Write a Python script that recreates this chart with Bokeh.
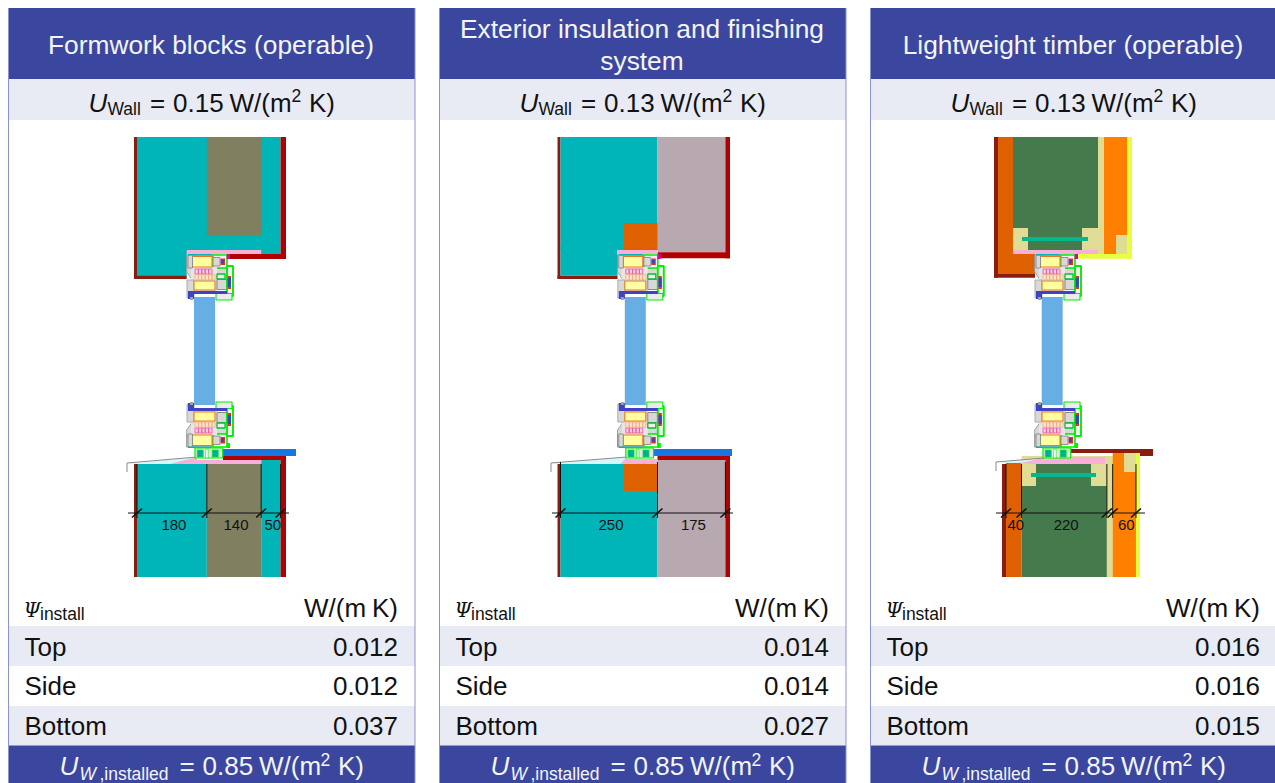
from bokeh.plotting import figure
from bokeh.models import Range1d
from bokeh.core.properties import value
from bokeh.embed import file_html
from bokeh.resources import INLINE

titles = [["Formwork blocks (operable)"],
          ["Exterior insulation and finishing", "system"],
          ["Lightweight timber (operable)"]]
u_wall = ["0.15", "0.13", "0.13"]
psi_top = ["0.012", "0.014", "0.016"]
psi_side = ["0.012", "0.014", "0.016"]
psi_bottom = ["0.037", "0.027", "0.015"]
u_window = ["0.85", "0.85", "0.85"]
row_names = ["Top", "Side", "Bottom"]
wall_mm_a = [180, 140, 50]
wall_mm_b = [250, 175]
wall_mm_c = [40, 220, 15, 60]
wall_labels_c = ["40", "220", "", "60"]

BLUE = "#3b479e"
PALE = "#e8ebf4"
EDGE = "#8a93cf"
TEAL = "#00b5b8"
OLIVE = "#807f5f"
MAUVE = "#b8a8b0"
RED = "#b00000"
DARK = "#8b1c10"
PINK = "#f8b0d8"
ORANGE = "#de6000"
BRIGHT = "#ff8000"
BEIGE = "#e0dc96"
GREEN = "#457a4c"
LIME = "#e8ff40"
GLASS = "#66aee3"
SILL = "#1976e0"
GRAY = "#d8d8d8"
MM = 0.388
SANS = "Liberation Sans"
MAIN = 26
SUB = 17.5

p = figure(width=1275, height=783, x_range=Range1d(0.5, 1275.5), y_range=Range1d(783.5, 0.5),
           output_backend="svg", toolbar_location=None, min_border=0,
           x_axis_type=None, y_axis_type=None, outline_line_color=None)
p.grid.visible = False


def box(l, r, t, b, fill=None, line=None, lw=1.0):
    p.quad(left=[l], right=[r], top=[t], bottom=[b],
           fill_color=fill, fill_alpha=1 if fill else 0,
           line_color=line, line_width=lw)


def seg(xs, ys, color="#111111", lw=1.0):
    p.line(xs, ys, line_color=color, line_width=lw)


def txt(x, y, s, size, color="#111111", align="left", style="normal", font=SANS):
    p.text(x=[x - 0.5], y=[y - 0.33 * size - 0.5], text=[s], text_font=value(font), text_font_size=f"{size}px",
           text_font_style=style, text_color=color, text_align=align,
           text_baseline="alphabetic")


def frame(x0, flip):
    def Y(v):
        return 702 - v if flip else v

    def b(l, r, t, bt, fill=None, line=None, lw=1.0):
        box(x0 + l - 186.7, x0 + r - 186.7, Y(t), Y(bt), fill, line, lw)

    b(210, 227, 268, 280, GRAY, "#909090", 0.7)
    b(186.7, 220, 255, 268, GRAY, "#909090", 1.0)
    b(213, 227, 255, 268, "#f4f4f4", "#00f000", 1.6)
    b(213, 220, 257.5, 266, GRAY, "#808080", 0.8)
    b(220.5, 225, 258.5, 265, "#e03030")
    b(221, 224, 260, 263.5, "#4040c8")
    b(226.7, 230, 254, 259, "#e000a0" if not flip else "#00f000")
    p.patch([x0 + v for v in (0, 5.5, 11, 5.5, 0)],
            [Y(v) for v in (266, 266, 280, 280, 272)],
            fill_color=GRAY, line_color="#909090", line_width=0.8)
    b(191, 217, 267, 280, "#ece4e4")
    b(195, 212, 269, 274, "#f8d0e0", "#e860a8", 0.9)
    for i in range(1, 5):
        b(195 + i * 3.4, 195 + i * 3.4, 269, 274, None, "#e860a8", 0.9)
    b(195, 215, 274.7, 280, "#fbe6d4", "#f0a878", 0.7)
    for i in range(1, 6):
        b(195 + i * 3.4, 195 + i * 3.4, 274.7, 280, None, "#f0a878", 0.7)
    b(192.5, 212, 256.5, 267, "#ffffa0", "#ee7a28", 1.1)
    b(188, 192.5, 255, 268, GRAY, "#909090", 1.0)
    b(188, 212, 254, 255.5, TEAL)
    b(187, 194, 280, 298, GRAY, "#a0a0a0", 0.8)
    b(194, 217, 280, 291, GRAY)
    b(194, 215, 281, 290, "#ffffa0", "#ee7a28", 1.1)
    b(217, 227, 279.5, 289.5, GRAY, "#808080", 0.9)
    b(217, 225, 274, 279, "#f0f0f0", "#00c030", 1.3)
    b(227, 233, 266, 296, "#f4f4f4", "#00f000", 1.9)
    b(227.7, 231, 276, 289, "#e03030")
    b(227.7, 231, 278, 287, "#4040c8")
    b(216, 232, 293.5, 300, "#ececec", "#00f000", 1.1)
    b(188, 227, 291, 294, "#4040c8")
    b(188, 194, 294, 299, "#4040c8")
    b(190, 193, 297, 300, "#a0a0a0")


def sill_adapter(x0):
    box(x0 + 8.3, x0 + 36, 448, 458, "#e6e6e6", "#00f000", 1.2)
    box(x0 + 10.5, x0 + 16.5, 450, 457, "#00a8b0", "#00f000", 0.8)
    box(x0 + 25.5, x0 + 31.5, 450, 457, "#00a8b0", "#00f000", 0.8)
    box(x0 + 19, x0 + 21.5, 449, 458, "#ffffff", "#00f000", 0.6)


def wedge(x_left, x_join, x_pink, y_end, y_corner):
    p.patch([x_left, x_join, x_join], [y_corner + 1, y_end, y_corner + 1],
            fill_color="#d4f7fa", line_color=None)
    p.patch([x_pink, x_join, x_join], [y_corner + 1, y_end, y_corner + 1],
            fill_color=PINK, line_color=None)
    seg([x_left, x_left, x_join], [y_corner + 9, y_corner, y_end], "#8a8a8a", 1.0)


def dims(x_start, mm_list, labels, y_line, x_a, x_b, y_top):
    seg([x_a, x_b], [y_line, y_line], "#111111", 1.0)
    x = x_start
    xs = [x]
    for m in mm_list:
        x += m * MM
        xs.append(x)
    for v in xs:
        seg([v, v], [y_top, y_line + 5], "#111111", 1.0)
        seg([v - 5, v + 5], [y_line + 4.5, y_line - 4.5], "#111111", 1.6)
    for a, c, s in zip(xs[:-1], xs[1:], labels):
        if s:
            txt((a + c) / 2 + 2.5, 530, s, 15, align="center")


def panel(k):
    d = 431 * k
    left, right = 8 + d, 415 + d
    light = "#f4f5fb"
    box(left, right, 8, 79, BLUE)
    box(left, right, 79, 120, PALE)
    box(left, right, 626, 666, PALE)
    box(left, right, 706, 745.5, PALE)
    box(left, right, 745.5, 783.5, BLUE)
    cx = 211.5 + d
    lines = titles[k]
    if len(lines) == 1:
        txt(cx, 54, lines[0], 26.3, light, "center")
    else:
        txt(cx, 38, lines[0], 26.3, light, "center")
        txt(cx, 70, lines[1], 26.3, light, "center")
    txt(89 + d, 112, "U", MAIN, style="italic")
    txt(108 + d, 115.5, "Wall", SUB)
    txt(150.5 + d, 112, "=", MAIN)
    txt(173.5 + d, 112, u_wall[k], MAIN)
    txt(230 + d, 112, "W/(m", MAIN)
    txt(292 + d, 102, "2", SUB)
    txt(309.5 + d, 112, "K)", MAIN)
    txt(24 + d, 617.5, "Ψ", 20, style="italic", font="DejaVu Serif")
    txt(40.5 + d, 620, "install", SUB)
    txt(304.5 + d, 617, "W/(m", MAIN)
    txt(398.5 + d, 617, "K)", MAIN, align="right")
    vals = [psi_top[k], psi_side[k], psi_bottom[k]]
    for name, v, base in zip(row_names, vals, (656, 695.5, 735)):
        txt(25 + d, base, name, MAIN)
        txt(398.5 + d, base, v, MAIN, align="right")
    txt(60 + d, 775.5, "U", MAIN, light, style="italic")
    txt(80 + d, 780, "W", SUB, light, style="italic")
    txt(100 + d, 780, ",installed", SUB, light)
    txt(180 + d, 775.5, "=", MAIN, light)
    txt(203 + d, 775.5, u_window[k], MAIN, light)
    txt(259.5 + d, 775.5, "W/(m", MAIN, light)
    txt(321 + d, 765.5, "2", SUB, light)
    txt(338.5 + d, 775.5, "K)", MAIN, light)
    for xe in (left + 0.5, right):
        seg([xe, xe], [8, 783.5], EDGE, 1.0)


for k in range(3):
    panel(k)

# --- Formwork blocks section
x = 137
a1, a2, a3 = [x + sum(wall_mm_a[:i + 1]) * MM for i in range(3)]
box(134, 137, 137, 279, DARK)
box(134, 186.7, 275.3, 279, DARK)
box(137, a3, 137, 254, TEAL)
box(137, 186.7, 250, 275.3, TEAL)
box(a1, a2, 137, 235, OLIVE)
box(a3, 286, 137, 259, RED)
box(227, 286, 254, 259, RED)
box(186.7, a2, 250, 254, PINK)
box(134, 137, 464, 577, DARK)
box(137, a1, 464, 577, TEAL)
box(a1, a2, 464, 577, OLIVE)
box(a2, a3, 460, 577, TEAL)
box(a3, 286, 456, 577, RED)
box(223, 286, 456, 460, RED)
box(223, 296, 449, 456, SILL)
box(197, a2, 460, 464, PINK)
wedge(127, 197, 170, 457, 463)
box(194, 215, 297, 405, GLASS)
frame(186.7, False)
frame(186.7, True)
sill_adapter(186.7)
dims(137, wall_mm_a, ["180", "140", "50"], 513, 128, 289, 464)

# --- Exterior insulation section
x = 560.5
b1, b2 = [x + sum(wall_mm_b[:i + 1]) * MM for i in range(2)]
box(557.5, 560.5, 137, 279, DARK)
box(557.5, 617.5, 275.5, 279, DARK)
box(560.5, b1, 137, 250, TEAL)
box(560.5, 617.5, 245, 275.5, TEAL)
box(b1, b2, 137, 252.3, MAUVE)
box(624, b1, 223, 250, ORANGE)
box(b2, 730, 137, 258.3, RED)
box(b1, 730, 252.3, 258.3, RED)
box(617.5, b1, 250, 254, PINK)
box(557.5, 560.5, 464, 577, DARK)
box(560.5, b1, 464, 577, TEAL)
box(b1, b2, 460, 577, MAUVE)
box(b2, 730, 456, 577, RED)
box(b1, 730, 456, 460, RED)
box(654, 732, 449, 456, SILL)
box(627, b1, 459, 464, PINK)
box(624, b1, 464, 491, ORANGE)
wedge(551, 627, 620, 457, 463)
box(624.8, 645.8, 297, 405, GLASS)
frame(617.5, False)
frame(617.5, True)
sill_adapter(617.5)
dims(560.5, wall_mm_b, ["250", "175"], 513, 552, 733, 462)

# --- Lightweight timber section
x = 1006
c1, c2, c3, c4 = [x + sum(wall_mm_c[:i + 1]) * MM for i in range(4)]
box(994, 998, 137, 277.7, DARK)
box(994, 1035, 274, 277.7, DARK)
box(998, 1013, 137, 274, ORANGE)
box(998, 1035, 250, 274, ORANGE)
box(1013, 1098, 137, 228, GREEN)
box(1013, 1098, 228, 250, BEIGE)
box(1028, 1082, 225, 250, GREEN)
box(1098, 1104, 137, 254, BEIGE)
box(1104, 1127, 137, 254, BRIGHT)
box(1116, 1127, 235, 254, BEIGE)
box(1127, 1132, 137, 258.7, LIME)
box(1075, 1132, 254, 258.7, LIME)
box(1022, 1088, 237, 241, "#00b890")
box(1013, 1098, 250, 254, PINK)
box(1002, 1006, 464, 577, DARK)
box(1006, c1, 462, 577, ORANGE)
box(c1, c3, 456, 486, BEIGE)
box(c1, c2, 486, 577, GREEN)
box(1036, 1091, 464, 490, GREEN)
box(c2, c3, 456, 577, BEIGE)
box(c3, c4, 453, 577, BRIGHT)
box(1124, c4, 453, 472, BEIGE)
box(c4, 1140, 453, 577, LIME)
box(1071, 1140, 449, 453, DARK)
box(1140, 1153, 449, 456, DARK)
box(1031, 1096, 473, 477, "#00b890")
p.patch([1027, 1071, 1105, 1105, 1027], [462, 457, 457, 464, 464], fill_color=PINK, line_color=None)
wedge(996, 1044, 1020, 458, 462)
box(1041.7, 1062.7, 297, 405, GLASS)
frame(1034.7, False)
frame(1034.7, True)
sill_adapter(1034.7)
dims(1006, wall_mm_c, wall_labels_c, 513, 996, 1145, 464)

open("out.html", "w").write(file_html(p, INLINE))
